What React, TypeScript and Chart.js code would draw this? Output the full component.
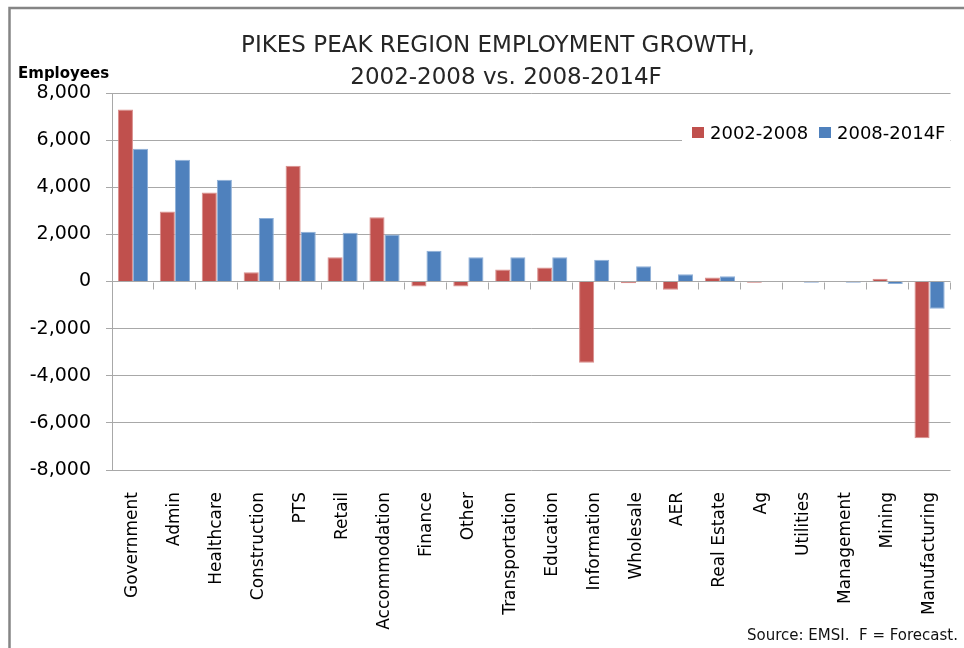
import React, { useEffect, useRef } from "react";
import { Chart, registerables } from "chart.js";

Chart.register(...registerables);

const categories = [
  "Government", "Admin", "Healthcare", "Construction", "PTS", "Retail",
  "Accommodation", "Finance", "Other", "Transportation", "Education",
  "Information", "Wholesale", "AER", "Real Estate", "Ag", "Utilities",
  "Management", "Mining", "Manufacturing",
];

const growth2002to2008 = [
  7300, 2970, 3780, 390, 4910, 1030, 2730, -210, -210, 510, 590,
  -3450, -70, -350, 170, -55, 0, 0, 115, -6650,
];

const growth2008to2014F = [
  5630, 5170, 4320, 2690, 2110, 2070, 2000, 1300, 1030, 1030, 1030,
  920, 650, 310, 225, 0, -50, -50, -110, -1160,
];

const seriesLabels = ["2002-2008", "2008-2014F"];
const titleLines = ["PIKES PEAK REGION EMPLOYMENT GROWTH,", "2002-2008 vs. 2008-2014F"];
const yAxisTitle = "Employees";
const sourceNote = "Source: EMSI.  F = Forecast.";
const yTickValues = [-8000, -6000, -4000, -2000, 0, 2000, 4000, 6000, 8000];

const FONT = "'DejaVu Sans', sans-serif";
const RED = "#C0504D";
const BLUE = "#4F81BD";
const GRID = "#a8a8a8";

const decorPlugin = {
  id: "decor",
  beforeDraw(chart: any) {
    const ctx = chart.ctx;
    ctx.save();
    ctx.fillStyle = "#ffffff";
    ctx.fillRect(0, 0, chart.width, chart.height);
    ctx.restore();
  },
  afterDraw(chart: any) {
    const ctx = chart.ctx;
    const area = chart.chartArea;
    const yScale = chart.scales.y;
    ctx.save();

    // outer frame
    ctx.strokeStyle = "#858585";
    ctx.lineWidth = 2.5;
    ctx.beginPath();
    ctx.moveTo(9.5, chart.height);
    ctx.lineTo(9.5, 8);
    ctx.lineTo(chart.width, 8);
    ctx.stroke();

    // title
    ctx.fillStyle = "#262626";
    ctx.textBaseline = "alphabetic";
    ctx.textAlign = "center";
    ctx.font = `23px ${FONT}`;
    ctx.fillText(titleLines[0], 498, 52);
    ctx.fillText(titleLines[1], 506, 84);

    // y axis title
    ctx.fillStyle = "#000";
    ctx.textAlign = "left";
    ctx.font = `bold 15px ${FONT}`;
    ctx.fillText(yAxisTitle, 18, 78);

    // category tick marks on the zero line
    const y0 = Math.round(yScale.getPixelForValue(0)) + 0.5;
    const n = chart.data.labels.length;
    const w = (area.right - area.left) / n;
    ctx.strokeStyle = GRID;
    ctx.lineWidth = 1;
    ctx.beginPath();
    for (let i = 1; i <= n; i++) {
      const x = Math.round(area.left + i * w) - 0.5;
      ctx.moveTo(x, y0);
      ctx.lineTo(x, y0 + 7);
    }
    ctx.stroke();

    // legend
    ctx.fillStyle = "#ffffff";
    ctx.fillRect(682, 117, 268, 30);
    ctx.font = `18px ${FONT}`;
    ctx.textAlign = "left";
    const items = chart.data.datasets;
    const lx = [692, 819];
    items.forEach((ds: any, i: number) => {
      ctx.fillStyle = ds.backgroundColor;
      ctx.fillRect(lx[i], 127, 12, 11);
      ctx.fillStyle = "#000";
      ctx.fillText(ds.label, lx[i] + 18, 139);
    });

    // source
    ctx.textAlign = "right";
    ctx.font = `15px ${FONT}`;
    ctx.fillStyle = "#111";
    ctx.fillText(sourceNote, 958, 640);

    ctx.restore();
  },
};

export default function App() {
  const ref = useRef<HTMLCanvasElement | null>(null);

  useEffect(() => {
    document.body.style.margin = "0";
    const canvas = ref.current;
    if (!canvas) return;
    const chart = new Chart(canvas, {
      type: "bar",
      data: {
        labels: categories,
        datasets: [
          {
            label: seriesLabels[0],
            data: growth2002to2008,
            backgroundColor: RED,
            borderColor: "#d98e8c",
            borderWidth: 1,
          },
          {
            label: seriesLabels[1],
            data: growth2008to2014F,
            backgroundColor: BLUE,
            borderColor: "#8fb0d8",
            borderWidth: 1,
          },
        ],
      },
      options: {
        animation: false,
        responsive: false,
        maintainAspectRatio: false,
        layout: { padding: { top: 93, left: 0, right: 1, bottom: 0 } },
        datasets: { bar: { categoryPercentage: 0.72, barPercentage: 1 } },
        plugins: {
          legend: { display: false },
          title: { display: false },
          tooltip: { enabled: false },
        },
        scales: {
          x: {
            grid: { display: false },
            border: { display: false },
            ticks: {
              autoSkip: false,
              minRotation: 90,
              maxRotation: 90,
              padding: 14,
              color: "#000",
              font: { family: FONT, size: 17 },
            },
            afterFit: (s: any) => {
              s.height = 178;
            },
          },
          y: {
            min: -8000,
            max: 8000,
            afterBuildTicks: (s: any) => {
              s.ticks = yTickValues.map((v) => ({ value: v }));
            },
            grid: {
              color: GRID,
              lineWidth: 1,
              drawTicks: true,
              tickLength: 6,
            },
            border: { display: true, color: GRID, width: 1 },
            ticks: {
              padding: 15,
              color: "#000",
              font: { family: FONT, size: 19 },
              callback: (v: any) => Number(v).toLocaleString("en-US"),
            },
            afterFit: (s: any) => {
              s.width = 112;
            },
          },
        },
      },
      plugins: [decorPlugin],
    });
    return () => chart.destroy();
  }, []);

  return (
    <div style={{ width: 964, height: 648 }}>
      <canvas ref={ref} width={964} height={648} style={{ display: "block" }} />
    </div>
  );
}
